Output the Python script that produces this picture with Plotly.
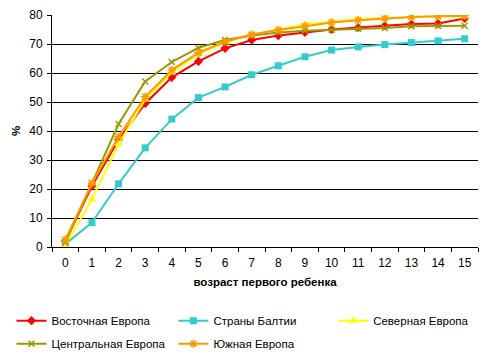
import plotly.graph_objects as go

ages = [str(i) for i in range(16)]
east = [2, 21, 37, 49.5, 58.5, 64, 68.5, 71.4, 72.9, 74, 75, 75.7, 76.3, 76.9, 77.1, 78.8]
baltic = [1, 8.4, 21.8, 34.2, 44.1, 51.5, 55.2, 59.4, 62.5, 65.6, 67.9, 69, 69.8, 70.5, 71.1, 71.8]
north = [0.5, 16.5, 35.5, 50.9, 60.2, 66.5, 70.6, 73.2, 75, 76.8, 77.7, 78.6, 79, 79.4, 79.6, 79.5]
central = [1.5, 22, 42.4, 57.1, 63.8, 68.7, 71.4, 72.9, 74, 74.6, 74.9, 75.3, 75.5, 76.1, 76.2, 76.3]
south = [2.5, 22, 38, 51.8, 61, 67, 70.8, 73.3, 74.8, 76.2, 77.4, 78.2, 78.8, 79.3, 79.6, 79.7]

names = ["Восточная Европа", "Страны Балтии", "Северная Европа", "Центральная Европа", "Южная Европа"]
gridlines = [10, 20, 30, 40, 50, 60, 70]

series = [
    (east, names[0], "#FF0000", dict(symbol="diamond", size=7), "legend"),
    (baltic, names[1], "#33CCCC", dict(symbol="square", size=7), "legend2"),
    (north, names[2], "#FFFF00", dict(symbol="triangle-up", size=8), "legend3"),
    (central, names[3], "#999900", dict(symbol="x-thin-open", size=6, line=dict(width=1.5, color="#999900")), "legend"),
    (south, names[4], "#FF9900", dict(symbol="asterisk-open", size=7, line=dict(width=1.5, color="#FF9900")), "legend2"),
]

fig = go.Figure()
for i, (vals, name, color, marker, lg) in enumerate(series):
    marker = dict(marker)
    marker["color"] = color
    fig.add_trace(go.Scatter(x=ages, y=vals, name=name, mode="lines+markers",
                             line=dict(color=color, width=2), marker=marker, legend=lg,
                             legendgroup="g%d" % i))

font = dict(family="Liberation Sans, Arial, sans-serif", size=11.5, color="black")
tickfont = dict(family="Liberation Sans, Arial, sans-serif", size=12, color="black")
leg_common = dict(orientation="v", yanchor="top", xanchor="left", font=font,
                  itemwidth=30, tracegroupgap=4, bgcolor="rgba(0,0,0,0)")
fig.update_layout(
    width=493, height=363,
    margin=dict(l=52, r=15, t=15, b=116, autoexpand=False),
    paper_bgcolor="white", plot_bgcolor="white",
    font=font,
    xaxis=dict(type="category", range=[-0.5, len(ages) - 0.5], autorange=False,
               tickson="boundaries", ticks="outside", ticklen=4, ticklabelstandoff=5,
               tickcolor="black", showline=True, linecolor="black", linewidth=1,
               showgrid=False, zeroline=False, automargin=False, tickfont=tickfont,
               title=dict(text="<b>возраст первого ребенка</b>", font=dict(size=11.5), standoff=8)),
    yaxis=dict(range=[0, 80], dtick=10, ticks="outside", ticklen=4, tickcolor="black",
               ticklabelstandoff=2,
               showline=True, linecolor="black", linewidth=1, automargin=False,
               showgrid=False, zeroline=False, tickfont=tickfont,
               minor=dict(tickvals=gridlines, showgrid=True, gridcolor="black",
                          gridwidth=1, ticks=""),
               title=dict(text="<b>%</b>", font=dict(size=11.5), standoff=6)),
    legend=dict(x=-0.095, y=-0.255, **leg_common),
    legend2=dict(x=0.285, y=-0.255, **leg_common),
    legend3=dict(x=0.66, y=-0.255, **leg_common),
    showlegend=True,
)
fig.write_html("out.html", post_script="document.body.style.margin='0px';",
               config={"displayModeBar": False})
